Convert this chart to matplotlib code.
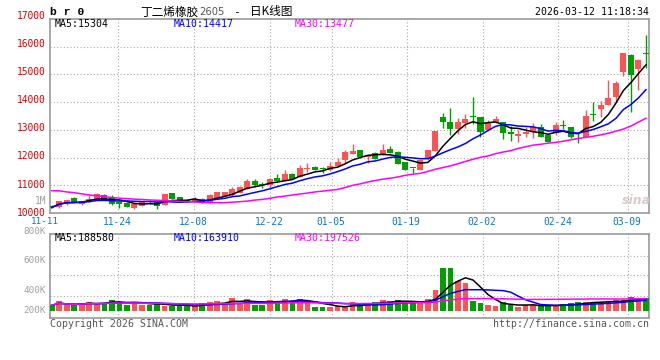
import numpy as np
import pandas as pd
import matplotlib
matplotlib.use('Agg')
import matplotlib.pyplot as plt

# ---------------- data ----------------
tick_labels = ['11-11', '11-24', '12-08', '12-22', '01-05', '01-19', '02-02', '02-24', '03-09']

open_ = [10250, 10210, 10360, 10550, 10330, 10425, 10490, 10650, 10530, 10385,
         10370, 10185, 10265, 10420, 10385, 10300, 10710, 10575, 10445, 10410,
         10515, 10360, 10555, 10615, 10640, 10720, 10880, 11165, 11060, 11020,
         11250, 11170, 11405, 11310, 11580, 11650, 11590, 11540, 11695, 11915,
         12130, 12275, 12010, 12155, 12085, 12310, 12190, 11830, 11635, 11550,
         11950, 12250, 13466, 13285, 13030, 13260, 13495, 13465, 12995, 13295,
         13285, 12890, 12790, 12865, 12925, 13095, 12805, 12875, 13160, 13095,
         12695, 12735, 13580, 13765, 13910, 14200, 15100, 15715, 15200, 15760]
high = [10280, 10450, 10480, 10560, 10440, 10650, 10720, 10670, 10660, 10400,
        10400, 10340, 10390, 10470, 10400, 10700, 10730, 10590, 10500, 10590,
        10530, 10680, 10760, 10770, 10940, 10960, 11215, 11210, 11130, 11250,
        11410, 11550, 11450, 11730, 11795, 11690, 11670, 11850, 11975, 12275,
        12490, 12290, 12100, 12200, 12490, 12420, 12250, 11840, 11640, 11920,
        12280, 12970, 13600, 13780, 13420, 13565, 14180, 13470, 13355, 13500,
        13300, 13140, 12995, 13095, 13240, 13200, 12820, 13285, 13355, 13100,
        12875, 13720, 14005, 14055, 14800, 14775, 15790, 15720, 15560, 16425]
low = [10170, 10190, 10300, 10380, 10280, 10410, 10480, 10470, 10300, 10190,
       10220, 10155, 10250, 10325, 10130, 10290, 10510, 10400, 10380, 10400,
       10350, 10350, 10540, 10600, 10630, 10710, 10870, 10950, 10910, 10860,
       11130, 11160, 11230, 11290, 11490, 11540, 11455, 11520, 11690, 11795,
       12120, 12000, 11795, 11940, 12075, 12150, 11760, 11550, 11430, 11540,
       11900, 12240, 13060, 12815, 12850, 13060, 13215, 12755, 12950, 13250,
       12660, 12610, 12575, 12755, 12700, 12755, 12570, 12815, 13020, 12695,
       12540, 12730, 13330, 13475, 13900, 14020, 14955, 13650, 14440, 15225]
close = [10200, 10440, 10470, 10400, 10430, 10515, 10700, 10485, 10330, 10340,
         10230, 10335, 10380, 10400, 10265, 10690, 10515, 10410, 10420, 10510,
         10355, 10645, 10745, 10755, 10855, 10950, 11165, 11020, 11010, 11240,
         11145, 11405, 11240, 11625, 11600, 11555, 11570, 11695, 11850, 12200,
         12250, 12010, 12095, 11950, 12275, 12155, 11770, 11555, 11615, 11910,
         12275, 12960, 13275, 13045, 13285, 13395, 13460, 12925, 13240, 13405,
         12900, 12865, 12850, 12935, 13095, 12755, 12575, 13190, 13130, 12755,
         12670, 13500, 13550, 13900, 14160, 14705, 15785, 14985, 15525, 15730]
ma30_price = [10805, 10800, 10760, 10733, 10690, 10650, 10620, 10590, 10560, 10535,
              10520, 10500, 10490, 10470, 10460, 10450, 10435, 10420, 10410, 10400,
              10380, 10372, 10372, 10372, 10390, 10408, 10430, 10465, 10490, 10530,
              10580, 10610, 10650, 10685, 10720, 10760, 10790, 10820, 10850, 10920,
              11000, 11050, 11120, 11170, 11220, 11255, 11300, 11360, 11400, 11430,
              11500, 11580, 11640, 11700, 11780, 11860, 11940, 12010, 12060, 12140,
              12200, 12250, 12330, 12390, 12450, 12480, 12520, 12550, 12590, 12640,
              12690, 12730, 12770, 12820, 12880, 12950, 13030, 13140, 13280, 13420]
volume = [85000, 155000, 85000, 85000, 123000, 144000, 123000, 123000, 171000, 144000,
          96000, 139000, 96000, 85000, 123000, 75000, 75000, 85000, 75000, 69000,
          123000, 139000, 155000, 123000, 203000, 123000, 187000, 96000, 96000, 171000,
          155000, 187000, 155000, 187000, 123000, 59000, 59000, 59000, 69000, 69000,
          139000, 75000, 123000, 139000, 171000, 155000, 171000, 123000, 123000, 139000,
          187000, 331000, 688000, 688000, 475000, 448000, 155000, 123000, 91000, 75000,
          139000, 85000, 64000, 91000, 91000, 75000, 85000, 69000, 112000, 123000,
          139000, 139000, 139000, 139000, 155000, 165000, 165000, 219000, 187000, 203000]

# ---------------- figure geometry (pixels) ----------------
W, H = 660, 360
L, R = 50.3, 649.3
MT, MB = 19.0, 213.0
VT, VB = 234.3, 318.3
XL = (-0.19, 79.44)

RED = '#ff5252'
GREEN = '#009e00'
MONO = ['DejaVu Sans Mono']
CJK = ['Noto Sans CJK SC', 'DejaVu Sans']

fig = plt.figure(figsize=(6.6, 3.6), dpi=100)
fig.patch.set_facecolor('white')

def fy(py):
    return 1 - py / H

def fx(px):
    return px / W

ax = fig.add_axes([fx(L), fy(MB), (R - L) / W, (MB - MT) / H])
axv = fig.add_axes([fx(L), fy(VB), (R - L) / W, (VB - VT) / H])

def px_to_idx(px):
    return XL[0] + (px - L) / (R - L) * (XL[1] - XL[0])

grid_px = [118.3, 194.0, 270.0, 332.0, 407.0, 483.0, 558.3, 627.7]
grid_idx = [px_to_idx(p) for p in grid_px]

x = np.arange(len(close))
o = np.array(open_, float); c = np.array(close, float)
hi = np.array(high, float); lo = np.array(low, float)
up = c >= o
cols = np.where(up, RED, GREEN)

# ---------------- main candle chart ----------------
ax.set_xlim(*XL)
ax.set_ylim(10000, 17000)
ax.vlines(x, lo, hi, colors=cols, lw=1.0, zorder=3)
body_h = np.maximum(np.abs(c - o), 40)
ax.bar(x, body_h, bottom=np.minimum(o, c), width=0.8, color=cols, lw=0, zorder=4)

ma5 = pd.Series(c).rolling(5, min_periods=1).mean()
ma10 = pd.Series(c).rolling(10, min_periods=1).mean()
ax.plot(x, ma5, color='black', lw=1.1, zorder=5)
ax.plot(x, ma10, color='#0000ff', lw=1.1, zorder=5)
ax.plot(x, ma30_price, color='#ff00ff', lw=1.1, zorder=5)

ax.set_yticks(np.arange(11000, 17000, 1000))
ax.set_xticks(grid_idx)
dotted = (0, (1, 2))
ax.grid(True, color='#aaaaaa', linestyle=dotted, lw=0.8, zorder=0)
ax.tick_params(length=0, labelleft=False, labelbottom=False)
for s in ax.spines.values():
    s.set_color('#9a9a9a'); s.set_linewidth(1.2)

# ---------------- volume chart ----------------
VPX = 16000.0  # volume per pixel
BASE = 310.7
axv.set_xlim(*XL)
axv.set_ylim(-(VB - BASE) * VPX, (BASE - VT) * VPX)
axv.bar(x, volume, width=0.76, color=cols, lw=0, zorder=3)
vs = pd.Series(np.array(volume, float))
axv.plot(x, vs.rolling(5, min_periods=1).mean(), color='black', lw=1.1, zorder=5)
axv.plot(x, vs.rolling(10, min_periods=1).mean(), color='#0000ff', lw=1.1, zorder=5)
axv.plot(x, vs.rolling(30, min_periods=1).mean(), color='#ff00ff', lw=1.1, zorder=5)
vgrid_px = [255.7, 275.3, 295.7]
axv.set_yticks([(BASE - p) * VPX for p in vgrid_px])
axv.set_xticks(grid_idx)
axv.grid(True, color='#aaaaaa', linestyle=dotted, lw=0.8, zorder=0)
axv.tick_params(length=0, labelleft=False, labelbottom=False)
for s in axv.spines.values():
    s.set_color('#9a9a9a'); s.set_linewidth(1.2)

# ---------------- texts ----------------
def ftext(px, py, s, **kw):
    kw.setdefault('va', 'center')
    return fig.text(fx(px), fy(py), s, **kw)

# price axis labels
price_labels = ['17000', '16000', '15000', '14000', '13000', '12000', '11000', '10000']
for k, lab in enumerate(price_labels):
    ftext(46, 15.7 + 28.14 * k, lab, ha='right', color='#e00000', fontsize=6.9, family=MONO)
ftext(46, 200.7, '1M', ha='right', color='#a0a0a0', fontsize=6.9, family=MONO)
# volume axis labels
for lab, py in [('800K', 231.3), ('600K', 260.5), ('400K', 290.5), ('200K', 310.3)]:
    ftext(46, py, lab, ha='right', color='#a0a0a0', fontsize=6.7, family=MONO)

# date labels
DATE_COL = '#0a78c8'
ftext(45.0, 221.0, tick_labels[0], ha='center', color=DATE_COL, fontsize=6.7, family=MONO)
for lab, gp in zip(tick_labels[1:], grid_px):
    ftext(gp - 1.0, 221.7, lab, ha='center', color=DATE_COL, fontsize=6.9, family=MONO)

# header
ftext(50, 12, 'b r 0', ha='left', fontsize=8.2, fontweight='bold', family=['Liberation Mono'])
ftext(140, 12, '丁二烯橡胶', ha='left', fontsize=8.4, family=CJK)
ftext(199, 12, '2605', ha='left', fontsize=7.2, color='#555555', family=['DejaVu Sans'])
ftext(236.5, 12, '-', ha='center', fontsize=8, family=MONO)
ftext(250, 12, '日K线图', ha='left', fontsize=8.4, family=CJK)
ftext(649, 12.3, '2026-03-12 11:18:34', ha='right', fontsize=7.1, family=MONO)

# MA legends
for py, vals in [(24, ('MA5:15304', 'MA10:14417', 'MA30:13477')),
                 (238, ('MA5:188580', 'MA10:163910', 'MA30:197526'))]:
    ftext(54.3, py, vals[0], ha='left', color='black', fontsize=7.1, family=MONO)
    ftext(174, py, vals[1], ha='left', color='#0000ff', fontsize=7.1, family=MONO)
    ftext(295, py, vals[2], ha='left', color='#ff00ff', fontsize=7.1, family=MONO)

# watermark
ftext(636, 201, 'sina', ha='center', fontsize=9, fontweight='bold', style='italic',
      color='#d9caca', family=['DejaVu Sans'])

# footer
ftext(50, 323.7, 'Copyright 2026 SINA.COM', ha='left', color='#555555', fontsize=7.1, family=MONO)
ftext(649, 324, 'http://finance.sina.com.cn', ha='right', color='#555555', fontsize=7.1, family=MONO)

fig.savefig('out.png', dpi=100, facecolor='white')
